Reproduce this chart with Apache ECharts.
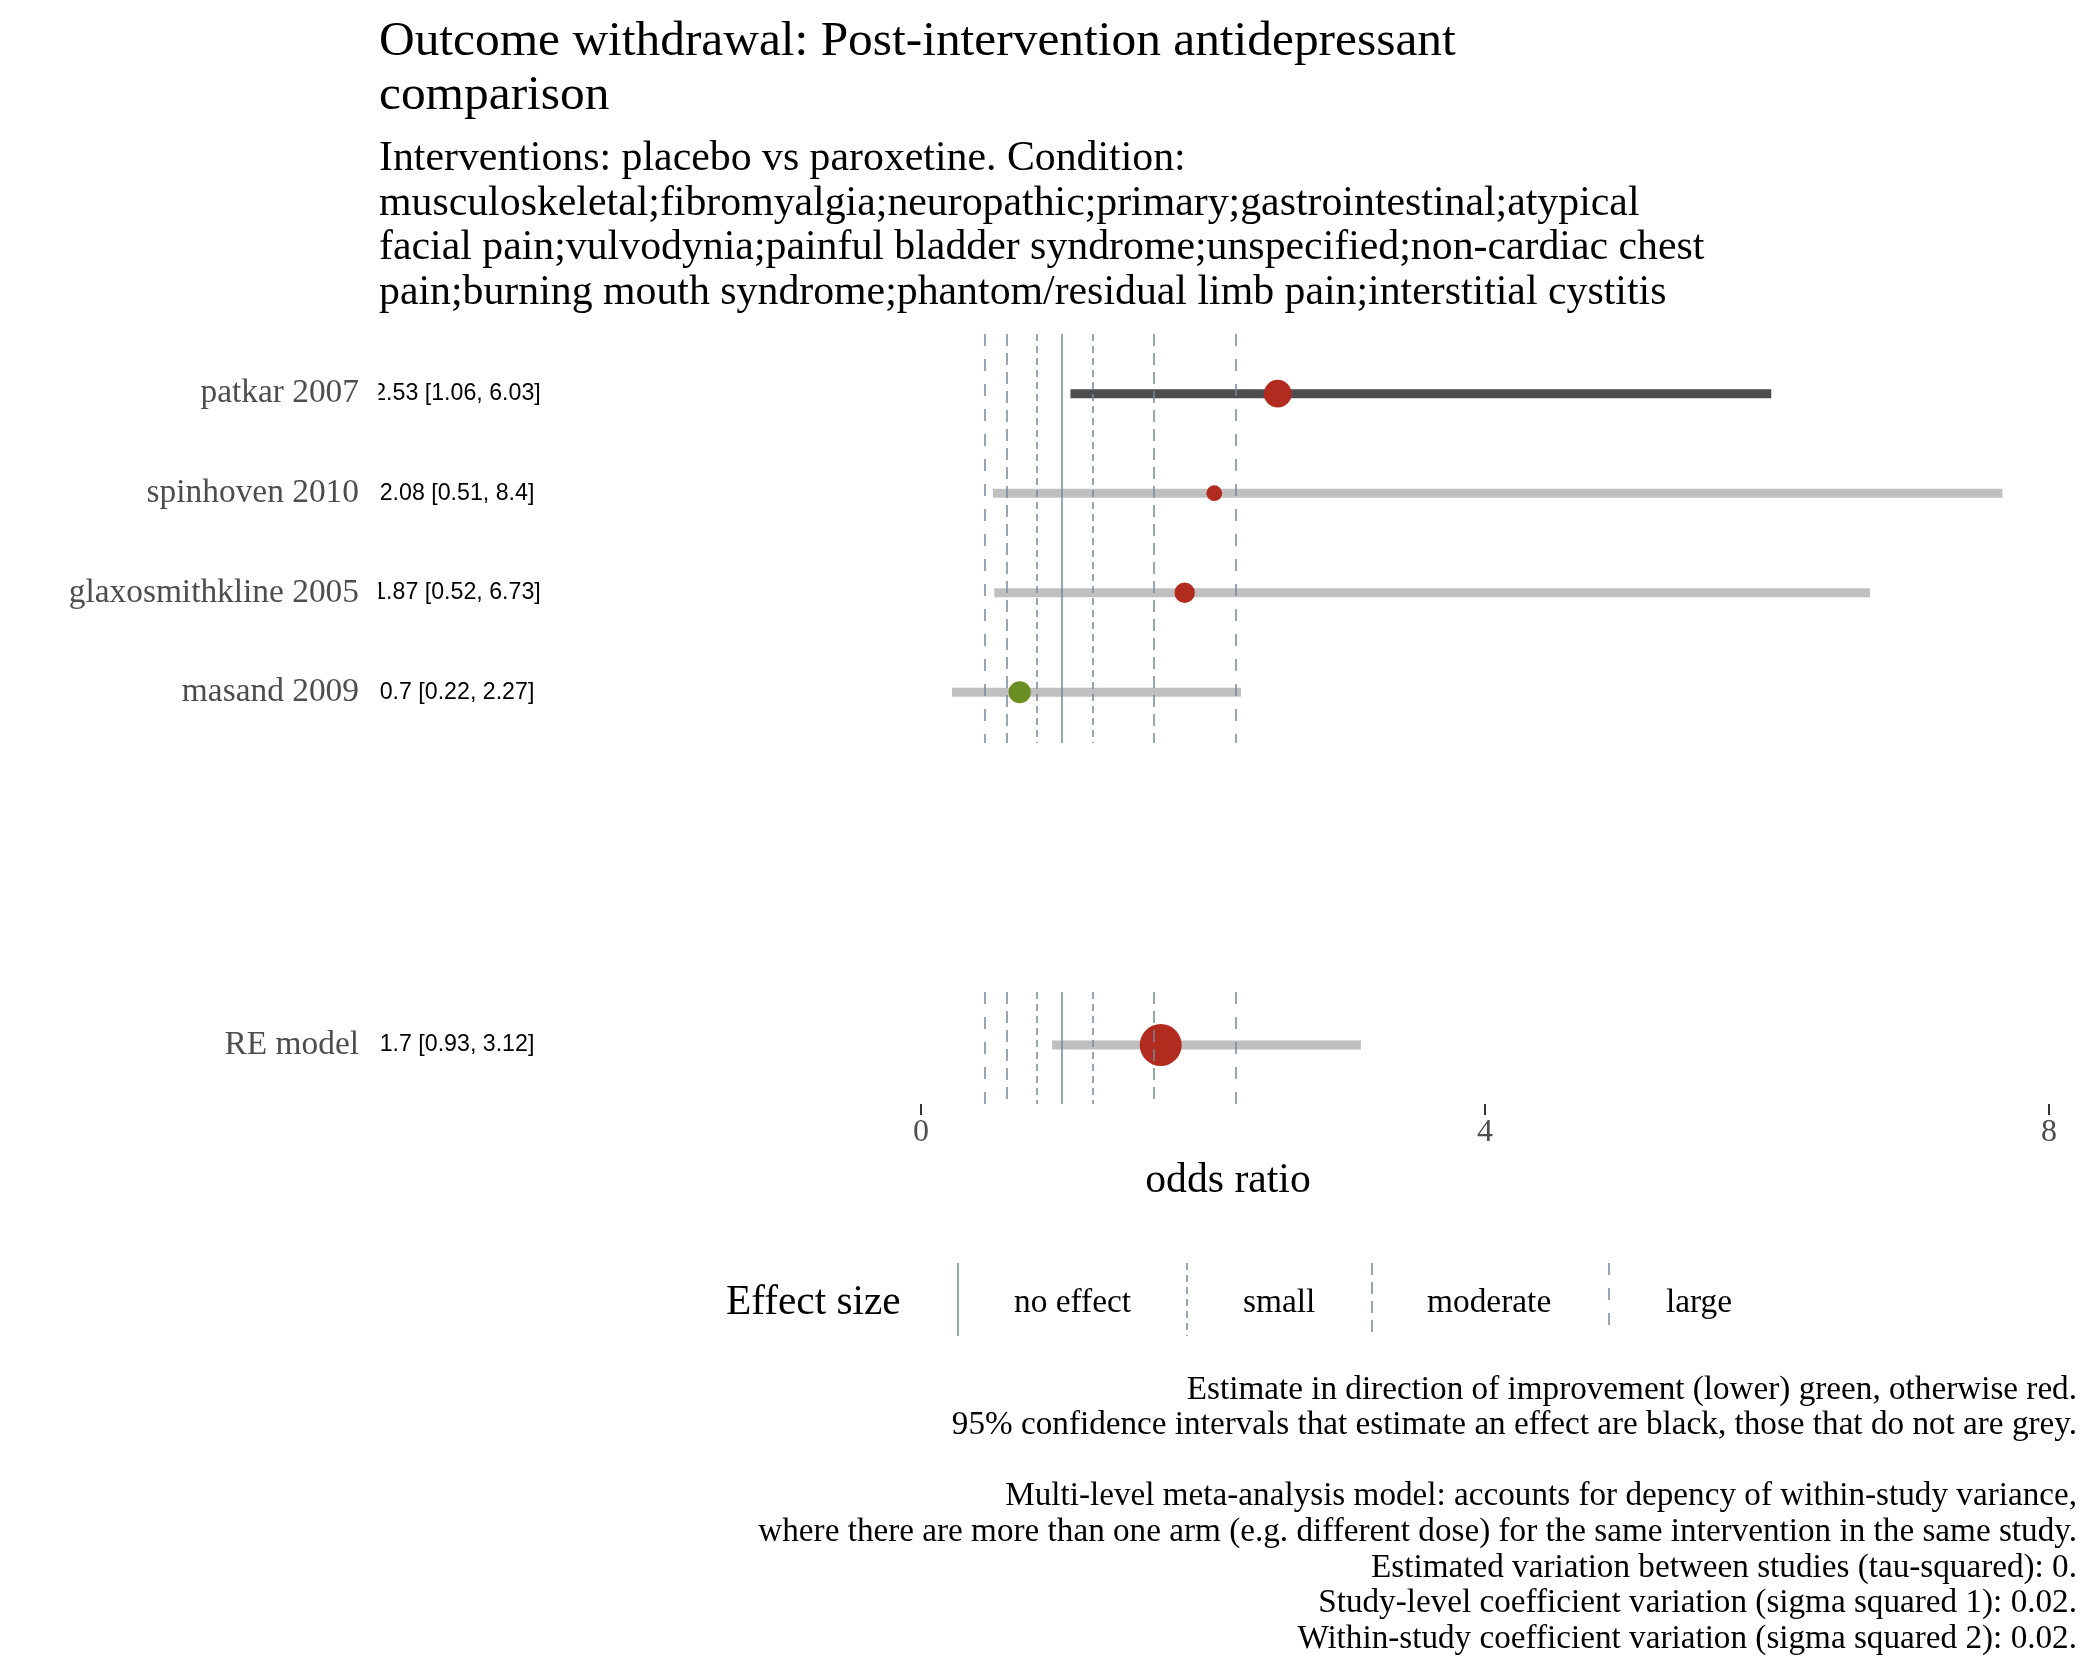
<!DOCTYPE html>
<html>
<head>
<meta charset="utf-8">
<script src="https://cdn.jsdelivr.net/npm/echarts@6/dist/echarts.min.js"></script>
<style>html,body{margin:0;padding:0;background:#fff;}#c{width:2100px;height:1680px;}</style>
</head>
<body>
<div id="c"></div>
<script>
// ---- data ----
const studies = ['patkar 2007', 'spinhoven 2010', 'glaxosmithkline 2005', 'masand 2009'];
const estimates = [2.53, 2.08, 1.87, 0.7];
const lowerCI = [1.06, 0.51, 0.52, 0.22];
const upperCI = [6.03, 8.4, 6.73, 2.27];
const weights = [41.4, 11.9, 21.1, 25.6];
const pooledLabel = ['RE model'];
const pooledEstimate = [1.7];
const pooledLower = [0.93];
const pooledUpper = [3.12];
const pooledWeight = [100];
const xTicks = [0, 4, 8];
const effectLevels = ['large', 'moderate', 'small', 'no effect', 'small', 'moderate', 'large'];
const effectLines = [0.449, 0.607, 0.819, 1, 1.221, 1.649, 2.226];
const legendNames = ['no effect', 'small', 'moderate', 'large'];
const titleText = 'Outcome withdrawal: Post-intervention antidepressant\ncomparison';
const subtitleText = 'Interventions: placebo vs paroxetine. Condition:\nmusculoskeletal;fibromyalgia;neuropathic;primary;gastrointestinal;atypical\nfacial pain;vulvodynia;painful bladder syndrome;unspecified;non-cardiac chest\npain;burning mouth syndrome;phantom/residual limb pain;interstitial cystitis';
const captionLines = [
  'Estimate in direction of improvement (lower) green, otherwise red.',
  '95% confidence intervals that estimate an effect are black, those that do not are grey.',
  '',
  'Multi-level meta-analysis model: accounts for depency of within-study variance,',
  'where there are more than one arm (e.g. different dose) for the same intervention in the same study.',
  'Estimated variation between studies (tau-squared): 0.',
  'Study-level coefficient variation (sigma squared 1): 0.02.',
  'Within-study coefficient variation (sigma squared 2): 0.02.'
];

// ---- styles ----
const SERIF = '"Liberation Serif", "DejaVu Serif", serif';
const SANS = '"Liberation Sans", Arial, sans-serif';
const RED = '#B22B1F', GREEN = '#6B8E23', DARK = '#4D4D4D', GREY = '#C0C0C0', REF = '#778899';
const dashFor = {
  'no effect': 'solid',
  'small': [7, 5],
  'moderate': [12, 7],
  'large': [12, 13]
};
const PANEL_CLIP = 7.67; // right clip of the panel in data units

const fmt = (e, l, h) => `${e} [${l}, ${h}]`;
const sizeOf = w => 2 + 4 * Math.sqrt(w);
const pointColor = e => (e < 1 ? GREEN : RED);

function ciRender(params, api) {
  const y = api.value(1);
  const lo = api.value(2);
  const hiRaw = api.value(3);
  const hi = Math.min(hiRaw, PANEL_CLIP);
  const p1 = api.coord([lo, y]);
  const p2 = api.coord([hi, y]);
  const sig = lo > 1 || hiRaw < 1;
  return {
    type: 'rect',
    shape: { x: p1[0], y: p1[1] - 4.5, width: p2[0] - p1[0], height: 9 },
    style: { fill: sig ? DARK : GREY }
  };
}

const refMarkLine = {
  silent: true,
  symbol: 'none',
  label: { show: false },
  animation: false,
  data: effectLines.map((v, i) => ({
    xAxis: v,
    lineStyle: { color: REF, width: 1.5, type: dashFor[effectLevels[i]], opacity: 1 }
  }))
};

const studyCI = studies.map((s, i) => [estimates[i], i, lowerCI[i], upperCI[i]]);
const studyPts = studies.map((s, i) => [estimates[i], i, weights[i]]);
const pooledCI = pooledLabel.map((s, i) => [pooledEstimate[i], i, pooledLower[i], pooledUpper[i]]);
const pooledPts = pooledLabel.map((s, i) => [pooledEstimate[i], i, pooledWeight[i]]);

const chart = echarts.init(document.getElementById('c'), null, { renderer: 'canvas' });

const xCommon = {
  type: 'value', min: 0, max: 8, interval: 4, position: 'bottom',
  splitLine: { show: false }, axisLine: { show: false, onZero: false }
};

const yName = { fontFamily: SERIF, fontSize: 33.4, color: '#4D4D4D' };
const yNum = { fontFamily: SANS, fontSize: 23.2, color: '#000' };

const option = {
  animation: false,
  backgroundColor: '#fff',
  title: [
    {
      text: titleText, left: 379, top: 15, padding: 0,
      textStyle: { fontFamily: SERIF, fontSize: 49.4, fontWeight: 'normal', color: '#000', lineHeight: 54 }
    },
    {
      text: subtitleText, left: 379, top: 137, padding: 0,
      textStyle: { fontFamily: SERIF, fontSize: 41.8, fontWeight: 'normal', color: '#000', lineHeight: 44.6 }
    }
  ],
  grid: [
    { left: 921, right: 51, top: 334, height: 409 },
    { left: 921, right: 51, top: 992, height: 112 }
  ],
  xAxis: [
    Object.assign({}, xCommon, { gridIndex: 0, axisTick: { show: false }, axisLabel: { show: false } }),
    Object.assign({}, xCommon, {
      gridIndex: 1,
      axisTick: { show: true, length: 11, lineStyle: { color: '#333', width: 2 } },
      axisLabel: { show: true, margin: 13, fontFamily: SERIF, fontSize: 32, color: '#4D4D4D',
        customValues: xTicks }
    })
  ],
  yAxis: [
    {
      gridIndex: 0, type: 'value', inverse: true, min: -0.6, max: 3.51,
      splitLine: { show: false }, axisLine: { show: false }, axisTick: { show: false },
      axisLabel: Object.assign({ show: true, margin: 562,
        customValues: studies.map((s, i) => i), formatter: v => studies[Math.round(v)] }, yName)
    },
    {
      gridIndex: 0, type: 'value', inverse: true, min: -0.6, max: 3.51, position: 'left',
      splitLine: { show: false }, axisLine: { show: false }, axisTick: { show: false },
      axisLabel: Object.assign({ show: true, margin: 464, align: 'center',
        customValues: studies.map((s, i) => i),
        formatter: v => { const i = Math.round(v); return fmt(estimates[i], lowerCI[i], upperCI[i]); } }, yNum)
    },
    {
      gridIndex: 1, type: 'value', inverse: true, min: -0.53, max: 0.59,
      splitLine: { show: false }, axisLine: { show: false }, axisTick: { show: false },
      axisLabel: Object.assign({ show: true, margin: 562,
        customValues: [0], formatter: v => pooledLabel[Math.round(v)] }, yName)
    },
    {
      gridIndex: 1, type: 'value', inverse: true, min: -0.53, max: 0.59, position: 'left',
      splitLine: { show: false }, axisLine: { show: false }, axisTick: { show: false },
      axisLabel: Object.assign({ show: true, margin: 464, align: 'center',
        customValues: [0],
        formatter: v => { const i = Math.round(v); return fmt(pooledEstimate[i], pooledLower[i], pooledUpper[i]); } }, yNum)
    }
  ],
  series: [
    { type: 'custom', xAxisIndex: 0, yAxisIndex: 0, renderItem: ciRender, data: studyCI,
      encode: { x: [0, 2, 3], y: 1 }, z: 2, clip: false },
    { type: 'scatter', xAxisIndex: 0, yAxisIndex: 0, data: studyPts, z: 3,
      symbolSize: v => sizeOf(v[2]),
      itemStyle: { opacity: 1, color: p => pointColor(p.value[0]) } },
    { type: 'line', xAxisIndex: 0, yAxisIndex: 0, data: [], z: 5, markLine: refMarkLine },
    { type: 'custom', xAxisIndex: 1, yAxisIndex: 2, renderItem: ciRender, data: pooledCI,
      encode: { x: [0, 2, 3], y: 1 }, z: 2, clip: false },
    { type: 'scatter', xAxisIndex: 1, yAxisIndex: 2, data: pooledPts, z: 3,
      symbolSize: v => sizeOf(v[2]),
      itemStyle: { opacity: 1, color: p => pointColor(p.value[0]) } },
    { type: 'line', xAxisIndex: 1, yAxisIndex: 2, data: [], z: 5, markLine: refMarkLine }
  ],
  graphic: [
    // clip of the annotation column (left panel edge)
    { type: 'rect', z: 100, silent: true, shape: { x: 362, y: 330, width: 16.5, height: 420 }, style: { fill: '#fff' } },
    { type: 'rect', z: 100, silent: true, shape: { x: 362, y: 1020, width: 16.5, height: 50 }, style: { fill: '#fff' } },
    // axis title
    { type: 'text', z: 50, x: 1228, y: 1181,
      style: { text: 'odds ratio', font: '41.7px ' + SERIF, fill: '#000', align: 'center', verticalAlign: 'middle' } },
    // legend
    { type: 'text', z: 50, x: 726, y: 1303,
      style: { text: 'Effect size', font: '41.3px ' + SERIF, fill: '#000', align: 'left', verticalAlign: 'middle' } },
    ...legendNames.map((n, i) => ({
      type: 'line', z: 50, silent: true,
      shape: { x1: [958, 1187, 1372, 1609][i], y1: 1263, x2: [958, 1187, 1372, 1609][i], y2: 1336 },
      style: { stroke: REF, lineWidth: 1.5, lineDash: dashFor[n] === 'solid' ? null : dashFor[n] }
    })),
    ...legendNames.map((n, i) => ({
      type: 'text', z: 50, x: [1014, 1243, 1427, 1666][i], y: 1303,
      style: { text: n, font: '33.4px ' + SERIF, fill: '#000', align: 'left', verticalAlign: 'middle' }
    })),
    // caption
    { type: 'text', z: 50, x: 2077, y: 1372,
      style: { text: captionLines.join('\n'), font: '33.2px ' + SERIF, fill: '#000', align: 'right',
        verticalAlign: 'top', lineHeight: 35.6 } }
  ]
};
chart.setOption(option);
</script>
</body>
</html>
